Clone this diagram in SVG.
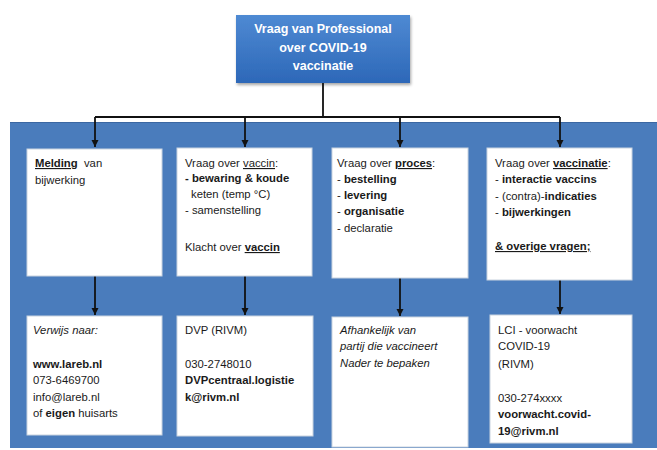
<svg xmlns="http://www.w3.org/2000/svg" width="657" height="450" viewBox="0 0 657 450">
<defs>
<linearGradient id="tg" x1="0" y1="0" x2="0" y2="1">
<stop offset="0" stop-color="#4f8ad3"/>
<stop offset="1" stop-color="#2d68b8"/>
</linearGradient>
<marker id="ah" markerWidth="8" markerHeight="8" refX="7" refY="4" orient="auto" markerUnits="userSpaceOnUse">
<path d="M0,0.5 L7,4 L0,7.5 Z" fill="#111"/>
</marker>
<filter id="sh" x="-10%" y="-10%" width="120%" height="130%">
<feDropShadow dx="1" dy="2" stdDeviation="1.5" flood-color="#000" flood-opacity="0.35"/>
</filter>
</defs>
<style>
text{font-family:"Liberation Sans",Arial,sans-serif;font-size:11.3px;fill:#1a1a1a}
.b{font-weight:bold}
.i{font-style:italic}
.u{text-decoration:underline}
.box{fill:#fff;stroke:#c9d3df;stroke-width:1}
.tt{fill:#fff;font-weight:bold;font-size:12.5px;text-anchor:middle}
.ln{stroke:#111;stroke-width:1.8;fill:none}
</style>
<rect x="0" y="0" width="657" height="450" fill="#fff"/>
<rect x="10" y="122" width="647" height="326" fill="#4a7cbc"/>
<line x1="10" y1="122.5" x2="657" y2="122.5" stroke="#3b67a2" stroke-width="1"/>

<g id="top">
<rect x="236" y="15" width="174" height="68" fill="url(#tg)" filter="url(#sh)"/>
<text class="tt" x="323" y="33">Vraag van Professional</text>
<text class="tt" x="323" y="52">over COVID-19</text>
<text class="tt" x="323" y="70">vaccinatie</text>
</g>

<g id="connectors">
<path class="ln" d="M323,83 V117 M95,117 H560"/>
<path class="ln" d="M95,117 V147" marker-end="url(#ah)"/>
<path class="ln" d="M245,117 V147" marker-end="url(#ah)"/>
<path class="ln" d="M400,117 V147" marker-end="url(#ah)"/>
<path class="ln" d="M560,117 V147" marker-end="url(#ah)"/>
<path class="ln" d="M95,276 V315" marker-end="url(#ah)"/>
<path class="ln" d="M245,276 V315" marker-end="url(#ah)"/>
<path class="ln" d="M400,278 V316" marker-end="url(#ah)"/>
<path class="ln" d="M560,280 V314" marker-end="url(#ah)"/>
</g>

<g id="melding">
<rect class="box" x="27" y="149" width="135" height="127"/>
<text x="35" y="167"><tspan class="b u">Melding</tspan>&#160; van</text>
<text x="35" y="184">bijwerking</text>
</g>

<g id="vaccin">
<rect class="box" x="177" y="148" width="135" height="128"/>
<text x="185" y="167">Vraag over <tspan class="u">vaccin</tspan>:</text>
<text x="185" y="182" class="b">- bewaring &amp; koude</text>
<text x="191" y="198">keten (temp °C)</text>
<text x="185" y="214">- samenstelling</text>
<text x="185" y="251">Klacht over <tspan class="b u">vaccin</tspan></text>
</g>

<g id="proces">
<rect class="box" x="332" y="148" width="136" height="130"/>
<text x="337" y="167">Vraag over <tspan class="b u">proces</tspan>:</text>
<text x="337" y="183">- <tspan class="b">bestelling</tspan></text>
<text x="337" y="199">- <tspan class="b">levering</tspan></text>
<text x="337" y="215">- <tspan class="b">organisatie</tspan></text>
<text x="337" y="232">- declaratie</text>
</g>

<g id="vaccinatie">
<rect class="box" x="487" y="148" width="145" height="132"/>
<text x="495" y="167">Vraag over <tspan class="b u">vaccinatie</tspan>:</text>
<text x="495" y="183">- <tspan class="b">interactie vaccins</tspan></text>
<text x="495" y="200">- (contra)-<tspan class="b">indicaties</tspan></text>
<text x="495" y="216">- <tspan class="b">bijwerkingen</tspan></text>
<text x="495" y="250" class="b u">&amp; overige vragen;</text>
</g>

<g id="lareb">
<rect class="box" x="27" y="316" width="135" height="119"/>
<text x="33" y="334" class="i">Verwijs naar:</text>
<text x="33" y="368" class="b">www.lareb.nl</text>
<text x="33" y="384">073-6469700</text>
<text x="33" y="401">info@lareb.nl</text>
<text x="33" y="417">of <tspan class="b">eigen</tspan> huisarts</text>
</g>

<g id="dvp">
<rect class="box" x="177" y="316" width="136" height="120"/>
<text x="185" y="334">DVP (RIVM)</text>
<text x="185" y="368">030-2748010</text>
<text x="185" y="384" class="b">DVPcentraal.logistie</text>
<text x="185" y="401" class="b">k@rivm.nl</text>
</g>

<g id="partij">
<rect class="box" x="332" y="317" width="136" height="130"/>
<text x="340" y="334" class="i">Afhankelijk van</text>
<text x="340" y="350" class="i">partij die vaccineert</text>
<text x="340" y="367" class="i">Nader te bepaken</text>
</g>

<g id="lci">
<rect class="box" x="490" y="315" width="142" height="128"/>
<text x="498" y="334">LCI - voorwacht</text>
<text x="498" y="350">COVID-19</text>
<text x="498" y="368">(RIVM)</text>
<text x="498" y="402">030-274xxxx</text>
<text x="498" y="418" class="b">voorwacht.covid-</text>
<text x="498" y="435" class="b">19@rivm.nl</text>
</g>
</svg>
